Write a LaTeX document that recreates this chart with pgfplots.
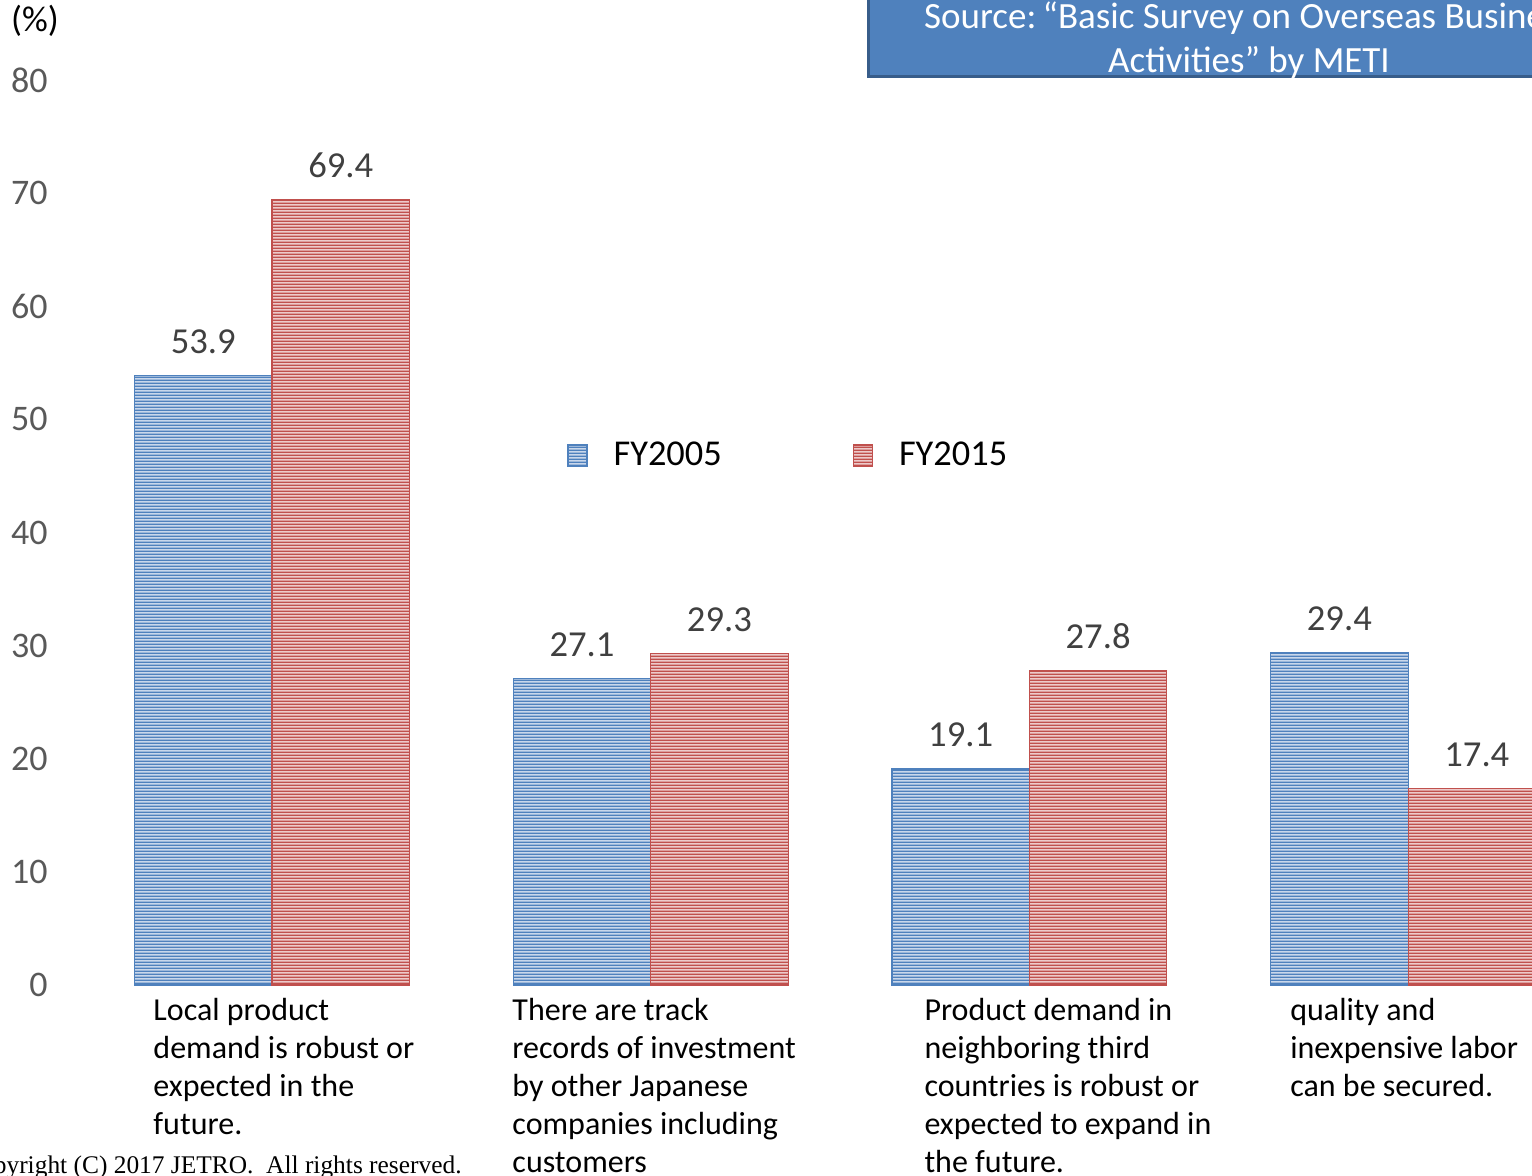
\documentclass[border=0pt]{standalone}
\usepackage{pgfplots}
\pgfplotsset{compat=1.18}
\usepackage{fontspec}
\setmainfont{Carlito}
\newfontfamily\seriffont{Liberation Serif}
\usetikzlibrary{patterns}
\pgfdeclarepatternformonly{hstripes}{\pgfqpoint{0pt}{0pt}}{\pgfqpoint{60pt}{1.65pt}}{\pgfqpoint{60pt}{1.65pt}}{%
  \pgfpathrectangle{\pgfqpoint{-1pt}{0pt}}{\pgfqpoint{62pt}{0.85pt}}\pgfusepath{fill}}
\definecolor{cblue}{HTML}{4F81BD}
\definecolor{cbluel}{HTML}{C9D7EB}
\definecolor{cred}{HTML}{C0504D}
\definecolor{credl}{HTML}{EDCACA}
\definecolor{cborder}{HTML}{385D8A}
\definecolor{tickgray}{HTML}{595959}
\definecolor{labgray}{HTML}{404040}
\begin{document}
\begin{tikzpicture}
\useasboundingbox (0,0) rectangle (766pt,587.5pt);
\clip (0,0) rectangle (766pt,587.5pt);
% source box
\draw[fill=cblue, draw=cborder, line width=1.5pt] (434pt,549pt) rectangle (820pt,600pt);
\node[align=center, text=white, font=\fontsize{18.5}{22}\selectfont, inner sep=0pt] at (624.5pt,567.2pt) {Source:\hspace{-2.5pt} “Basic Survey on Overseas Business\\Activities” by METI};
\node[font=\fontsize{18}{20}\selectfont, inner sep=0pt] at (17.5pt,577pt) {(\%)};
\node[font=\seriffont\fontsize{12.7}{15}\selectfont, inner sep=0pt, anchor=base east] at (231pt,1pt) {Copyright (C) 2017 JETRO.\ \ All rights reserved.};
\begin{axis}[
  at={(30pt,95pt)}, anchor=south west,
  scale only axis, width=736pt, height=452.5pt,
  xmin=-0.5598, xmax=3.3272, ymin=0, ymax=80,
  enlargelimits=false, clip=false,
  axis line style={draw=none}, tick style={draw=none}, major tick length=0pt,
  xtick=\empty,
  ytick={0,10,...,80},
  yticklabel style={font=\fontsize{18}{20}\selectfont, text=tickgray, inner sep=0pt, anchor=east, xshift=-6pt},
  /pgf/number format/assume math mode=true,
  ybar,
  nodes near coords,
  nodes near coords style={font=\fontsize{18.3}{20}\selectfont, text=labgray, anchor=base, yshift=11pt, /pgf/number format/.cd, fixed, precision=1, fixed zerofill, assume math mode=true},
  legend image code/.code={\draw[#1] (0pt,-5.25pt) rectangle (9.5pt,5.25pt);},
  legend style={at={(0.3444,0.5850)}, anchor=west, draw=none, fill=none, inner sep=0pt,
    font=\fontsize{18.2}{20}\selectfont,
    nodes={inner sep=0pt},
    /tikz/every odd column/.append style={column sep=13pt},
    /tikz/every even column/.append style={column sep=65.5pt}},
  legend columns=2,
]
\addplot[bar width=0.363, bar shift=-0.1815, draw=cblue, line width=0.6pt, fill=cbluel,
  postaction={pattern=hstripes, pattern color=cblue}]
  coordinates {(0,53.9) (1,27.1) (2,19.1) (3,29.4)};
\addlegendentry{FY2005}
\addplot[bar width=0.363, bar shift=0.1815, draw=cred, line width=0.6pt, fill=credl,
  postaction={pattern=hstripes, pattern color=cred}]
  coordinates {(0,69.4) (1,29.3) (2,27.8) (3,17.4)};
\addlegendentry{FY2015}
\begin{scope}[every node/.style={anchor=north west, align=left, inner sep=0pt, font=\fontsize{16}{19}\selectfont}]
\node at (axis cs:-0.314,-1.15) {Local product\\demand is robust or\\expected in the\\future.};
\node at (axis cs:0.634,-1.15) {There are track\\records of investment\\by other Japanese\\companies including\\customers};
\node at (axis cs:1.722,-1.15) {Product demand in\\neighboring third\\countries is robust or\\expected to expand in\\the future.};
\node at (axis cs:2.688,-1.15) {quality and\\inexpensive labor\\can be secured.};
\end{scope}
\end{axis}
\end{tikzpicture}
\end{document}
